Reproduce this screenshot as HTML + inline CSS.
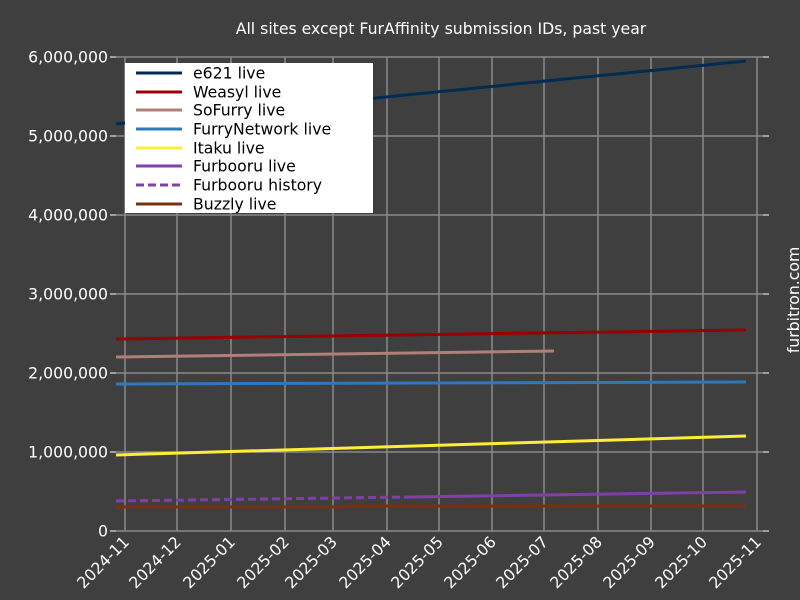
<!DOCTYPE html>
<html><head><meta charset="utf-8"><style>
html,body{margin:0;padding:0;background:#3f3f3f;}
svg{display:block;font-family:"DejaVu Sans","Liberation Sans",sans-serif;}
</style></head><body>
<svg width="800" height="600" viewBox="0 0 800 600">
<rect width="800" height="600" fill="#3f3f3f"/>
<g stroke="#8a8a8a" stroke-width="1.5">
<line x1="116" y1="57" x2="763" y2="57"/>
<line x1="116" y1="136" x2="763" y2="136"/>
<line x1="116" y1="215" x2="763" y2="215"/>
<line x1="116" y1="294" x2="763" y2="294"/>
<line x1="116" y1="373" x2="763" y2="373"/>
<line x1="116" y1="452" x2="763" y2="452"/>
<line x1="116" y1="531" x2="763" y2="531"/>
<line x1="125" y1="57" x2="125" y2="531"/><line x1="177" y1="57" x2="177" y2="531"/><line x1="231" y1="57" x2="231" y2="531"/><line x1="285" y1="57" x2="285" y2="531"/><line x1="333" y1="57" x2="333" y2="531"/><line x1="387" y1="57" x2="387" y2="531"/><line x1="439" y1="57" x2="439" y2="531"/><line x1="492" y1="57" x2="492" y2="531"/><line x1="544" y1="57" x2="544" y2="531"/><line x1="598" y1="57" x2="598" y2="531"/><line x1="651" y1="57" x2="651" y2="531"/><line x1="703" y1="57" x2="703" y2="531"/><line x1="757" y1="57" x2="757" y2="531"/>
</g>
<g stroke="#fff" stroke-width="1">
<line x1="110" y1="57" x2="116" y2="57"/><line x1="110" y1="136" x2="116" y2="136"/><line x1="110" y1="215" x2="116" y2="215"/><line x1="110" y1="294" x2="116" y2="294"/><line x1="110" y1="373" x2="116" y2="373"/><line x1="110" y1="452" x2="116" y2="452"/><line x1="110" y1="531" x2="116" y2="531"/>
<line x1="763" y1="57" x2="769" y2="57"/><line x1="763" y1="136" x2="769" y2="136"/><line x1="763" y1="215" x2="769" y2="215"/><line x1="763" y1="294" x2="769" y2="294"/><line x1="763" y1="373" x2="769" y2="373"/><line x1="763" y1="452" x2="769" y2="452"/><line x1="763" y1="531" x2="769" y2="531"/>
</g>
<g stroke-width="3" fill="none" stroke-linecap="butt">
<line x1="116" y1="124" x2="746" y2="61" stroke="#002b55"/>
<line x1="116" y1="339" x2="746" y2="330" stroke="#990000"/>
<line x1="116" y1="357" x2="554" y2="351" stroke="#b08078"/>
<line x1="116" y1="384" x2="746" y2="382" stroke="#2f78bc"/>
<line x1="116" y1="455" x2="746" y2="436" stroke="#ffee33"/>
<line x1="116" y1="501" x2="411" y2="497" stroke="#8040a8" stroke-dasharray="8,4"/>
<line x1="411" y1="497" x2="746" y2="492" stroke="#8040a8"/>
<line x1="116" y1="507" x2="343" y2="507" stroke="#7a3010"/>
<line x1="343" y1="506" x2="746" y2="506" stroke="#7a3010"/>
</g>
<rect x="125" y="63" width="248" height="150" fill="#fff"/>
<g stroke-width="3">
<line x1="136" y1="73" x2="182" y2="73" stroke="#002b55"/>
<line x1="136" y1="92" x2="182" y2="92" stroke="#990000"/>
<line x1="136" y1="110" x2="182" y2="110" stroke="#b08078"/>
<line x1="136" y1="129" x2="182" y2="129" stroke="#2f78bc"/>
<line x1="136" y1="148" x2="182" y2="148" stroke="#ffee33"/>
<line x1="136" y1="166" x2="182" y2="166" stroke="#8040a8"/>
<line x1="136" y1="185" x2="182" y2="185" stroke="#8040a8" stroke-dasharray="8,4"/>
<line x1="136" y1="204" x2="182" y2="204" stroke="#7a3010"/>
</g>
<g font-size="15.7" fill="#000">
<text x="193" y="78.5">e621 live</text><text x="193" y="97.5">Weasyl live</text><text x="193" y="115.5">SoFurry live</text><text x="193" y="134.5">FurryNetwork live</text><text x="193" y="153.5">Itaku live</text><text x="193" y="171.5">Furbooru live</text><text x="193" y="190.5">Furbooru history</text><text x="193" y="209.5">Buzzly live</text>
</g>
<g font-size="15.7" fill="#fff" text-anchor="end">
<text x="108" y="62.5">6,000,000</text><text x="108" y="141.5">5,000,000</text><text x="108" y="220.5">4,000,000</text><text x="108" y="299.5">3,000,000</text><text x="108" y="378.5">2,000,000</text><text x="108" y="457.5">1,000,000</text><text x="108" y="536.5">0</text>
</g>
<g font-size="15.7" fill="#fff" text-anchor="end">
<text transform="translate(130,543) rotate(-45)">2024-11</text>
<text transform="translate(182,543) rotate(-45)">2024-12</text>
<text transform="translate(236,543) rotate(-45)">2025-01</text>
<text transform="translate(290,543) rotate(-45)">2025-02</text>
<text transform="translate(338,543) rotate(-45)">2025-03</text>
<text transform="translate(392,543) rotate(-45)">2025-04</text>
<text transform="translate(444,543) rotate(-45)">2025-05</text>
<text transform="translate(497,543) rotate(-45)">2025-06</text>
<text transform="translate(549,543) rotate(-45)">2025-07</text>
<text transform="translate(603,543) rotate(-45)">2025-08</text>
<text transform="translate(656,543) rotate(-45)">2025-09</text>
<text transform="translate(708,543) rotate(-45)">2025-10</text>
<text transform="translate(762,543) rotate(-45)">2025-11</text>
</g>
<text x="441" y="34" font-size="15.7" fill="#fff" text-anchor="middle">All sites except FurAffinity submission IDs, past year</text>
<text transform="translate(799,300) rotate(-90)" font-size="15.7" fill="#fff" text-anchor="middle">furbitron.com</text>
</svg>
</body></html>
